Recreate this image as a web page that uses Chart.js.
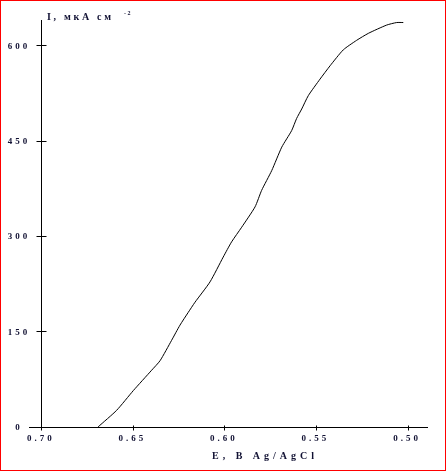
<!DOCTYPE html>
<html>
<head>
<meta charset="utf-8">
<script src="https://cdn.jsdelivr.net/npm/chart.js@4"></script>
<style>
  html, body { margin: 0; padding: 0; background: #fff; }
  #plot { display: block; }
</style>
</head>
<body>
<canvas id="plot" width="446" height="471"></canvas>
<script>
// potential E (V vs Ag/AgCl) and current density I (uA/cm2)
const potential = [0.669, 0.6589, 0.6498, 0.6398, 0.6352, 0.6289, 0.6243, 0.6198, 0.6161,
    0.6079, 0.6007, 0.5961, 0.5906, 0.5833, 0.5797, 0.5742, 0.5687, 0.5633, 0.5606,
    0.5578, 0.5542, 0.5478, 0.5423, 0.5351, 0.5278, 0.5214, 0.5114, 0.5059, 0.5023];
const current = [0, 26, 57, 89, 104, 136, 160, 180, 196,
    228, 267, 291, 314, 346, 372, 403, 440, 466, 485,
    500, 521, 547, 568, 593, 608, 619, 632, 636, 636];

const xTicks = [0.70, 0.65, 0.60, 0.55, 0.50];
const yTicks = [0, 150, 300, 450, 600];
const xTitle = 'E, В Ag/AgCl';
const yTitle = 'I, мкА см';

const textColor = '#111133';

// draw text one glyph at a time so the wide letter spacing of the original can be kept
function spacedWidth(ctx, str, gap) {
    let w = 0;
    for (const ch of str) w += ctx.measureText(ch).width + gap;
    return w - gap;
}
function spacedText(ctx, str, x, y, gap, align) {
    const w = spacedWidth(ctx, str, gap);
    let px = align === 'center' ? x - w / 2 : align === 'right' ? x - w : x;
    ctx.textAlign = 'left';
    for (const ch of str) {
        ctx.fillText(ch, px, y);
        px += ctx.measureText(ch).width + gap;
    }
    return w;
}

// axes cross at E = 0.70 and I = 0, so draw them by hand
const crossAxes = {
    id: 'crossAxes',
    beforeDraw(chart) {
        const ctx = chart.ctx;
        ctx.save();
        ctx.fillStyle = '#fff';
        ctx.fillRect(0, 0, chart.width, chart.height);
        ctx.restore();
    },
    afterDraw(chart) {
        const ctx = chart.ctx;
        const xs = chart.scales.x, ys = chart.scales.y;
        const ax = Math.round(xs.getPixelForValue(0.70)) + 0.5;
        const ay = Math.round(ys.getPixelForValue(0)) + 0.5;
        ctx.save();
        ctx.strokeStyle = '#000';
        ctx.lineWidth = 1;
        ctx.beginPath();
        ctx.moveTo(ax, chart.chartArea.top);
        ctx.lineTo(ax, chart.chartArea.bottom);
        ctx.moveTo(chart.chartArea.left, ay);
        ctx.lineTo(chart.chartArea.right, ay);
        yTicks.forEach(v => {
            if (v === 0) return;
            const py = Math.round(ys.getPixelForValue(v)) + 0.5;
            ctx.moveTo(ax - 5, py);
            ctx.lineTo(ax + 5, py);
        });
        xTicks.forEach(v => {
            const px = Math.round(xs.getPixelForValue(v)) + 0.5;
            ctx.moveTo(px, ay - 2);
            ctx.lineTo(px, ay + 3);
        });
        ctx.stroke();

        // tick labels
        ctx.fillStyle = textColor;
        ctx.textBaseline = 'middle';
        ctx.font = 'bold 9px "Liberation Serif"';
        yTicks.forEach(v => {
            spacedText(ctx, String(v), 17.5, ys.getPixelForValue(v) + 1, 3, 'center');
        });
        xTicks.forEach(v => {
            spacedText(ctx, v.toFixed(2), xs.getPixelForValue(v) - 2, 439, 3, 'center');
        });

        // axis titles
        ctx.font = 'bold 10px "Liberation Serif"';
        const w = spacedText(ctx, yTitle, 47, 17, 2.7, 'left');
        ctx.font = 'bold 6px "Liberation Serif"';
        spacedText(ctx, '-2', 47 + w + 13, 13, 1.5, 'left');

        ctx.font = 'bold 10px "Liberation Serif"';
        spacedText(ctx, xTitle, 263, 456, 4, 'center');

        // picture frame
        ctx.strokeStyle = '#ff0000';
        ctx.strokeRect(0.5, 0.5, chart.width - 1, chart.height - 1);
        ctx.restore();
    }
};

new Chart(document.getElementById('plot'), {
    type: 'line',
    data: {
        datasets: [{
            data: potential.map((e, i) => ({ x: e, y: current[i] })),
            borderColor: '#000',
            borderWidth: 1,
            pointRadius: 0,
            tension: 0.2,
            fill: false
        }]
    },
    options: {
        responsive: false,
        animation: false,
        devicePixelRatio: 1,
        layout: { padding: { left: 0, top: 20, right: 18, bottom: 0 } },
        plugins: {
            legend: { display: false },
            tooltip: { enabled: false }
        },
        scales: {
            x: {
                type: 'linear',
                reverse: true,
                min: 0.4888,
                max: 0.7068,
                afterBuildTicks: (scale) => { scale.ticks = xTicks.map(v => ({ value: v })); },
                afterFit: (scale) => { scale.height = 41; },
                grid: { display: false },
                border: { display: false },
                ticks: { display: false }
            },
            y: {
                type: 'linear',
                min: -5,
                max: 640,
                afterBuildTicks: (scale) => { scale.ticks = yTicks.map(v => ({ value: v })); },
                afterFit: (scale) => { scale.width = 29; },
                grid: { display: false },
                border: { display: false },
                ticks: { display: false }
            }
        }
    },
    plugins: [crossAxes]
});
</script>
</body>
</html>
